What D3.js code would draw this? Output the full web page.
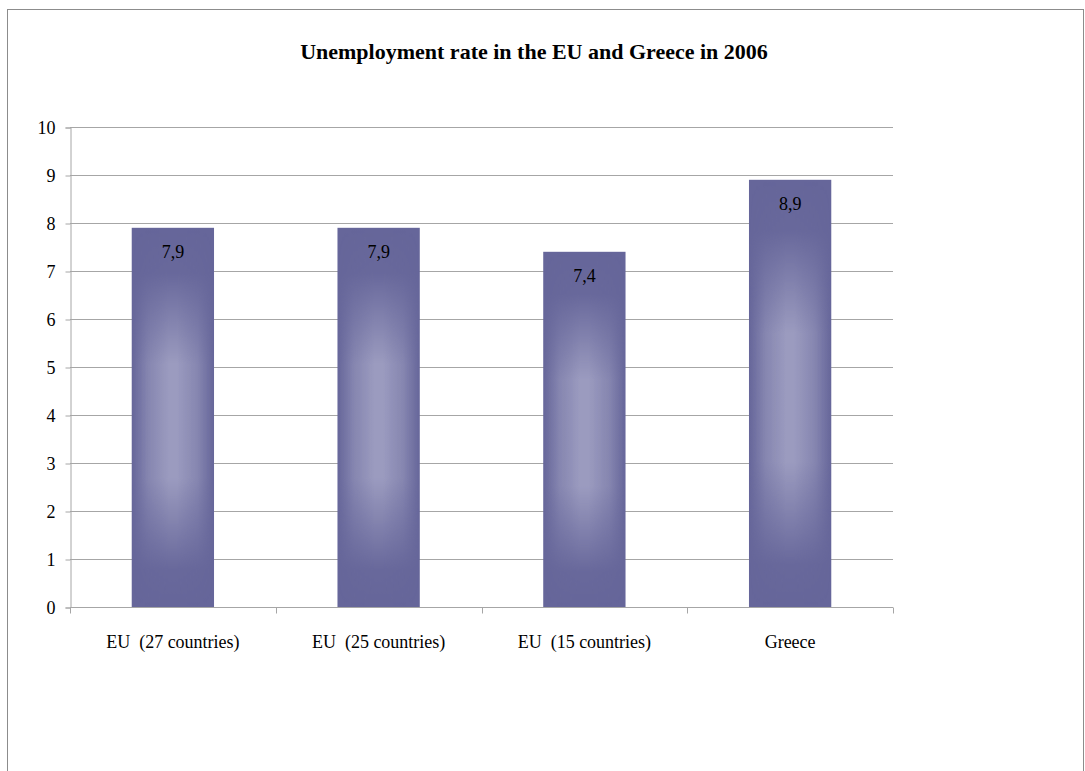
<!DOCTYPE html>
<html>
<head>
<meta charset="utf-8">
<script src="https://cdn.jsdelivr.net/npm/d3@7"></script>
<style>
  html, body { margin: 0; padding: 0; background: #fff; }
  svg { display: block; }
  svg text { font-family: "Liberation Serif", "DejaVu Serif", "Times New Roman", Times, serif !important; fill: #000; }
</style>
</head>
<body>
<script>
// Unemployment rate (%) in 2006
const categories = ["EU  (27 countries)", "EU  (25 countries)", "EU  (15 countries)", "Greece"];
const values = [7.9, 7.9, 7.4, 8.9];
const valueLabels = ["7,9", "7,9", "7,4", "8,9"];
const yTicks = [0, 1, 2, 3, 4, 5, 6, 7, 8, 9, 10];
const title = "Unemployment rate in the EU and Greece in 2006";

const W = 1085, H = 771;
const plot = { left: 70, right: 893, top: 127, bottom: 607 };
const FONT = "'Liberation Serif', 'DejaVu Serif', serif";

const svg = d3.select("body").append("svg")
  .attr("width", W).attr("height", H);

// chart frame
svg.append("rect")
  .attr("x", 7.5).attr("y", 9.5)
  .attr("width", 1076).attr("height", 780)
  .attr("fill", "#fff").attr("stroke", "#8c8c8c").attr("stroke-width", 1);

const defs = svg.append("defs");

// horizontal highlight across each bar
const hGrad = defs.append("linearGradient").attr("id", "hlight")
  .attr("x1", 0).attr("x2", 1).attr("y1", 0).attr("y2", 0);
[[0, 0], [0.2, 0.6], [0.45, 1], [0.55, 1], [0.8, 0.6], [1, 0]].forEach(([o, a]) =>
  hGrad.append("stop").attr("offset", o).attr("stop-color", "#9e9ec1").attr("stop-opacity", a));

// vertical fade of the highlight (dark at top and bottom)
const vGrad = defs.append("linearGradient").attr("id", "vfade")
  .attr("x1", 0).attr("x2", 0).attr("y1", 0).attr("y2", 1);
[[0, 0], [0.12, 0.05], [0.36, 0.95], [0.66, 0.95], [0.9, 0.05], [1, 0]].forEach(([o, a]) =>
  vGrad.append("stop").attr("offset", o).attr("stop-color", "#fff").attr("stop-opacity", a));
const mask = defs.append("mask").attr("id", "vmask")
  .attr("maskContentUnits", "objectBoundingBox");
mask.append("rect").attr("x", 0).attr("y", 0).attr("width", 1).attr("height", 1)
  .attr("fill", "url(#vfade)");

const x = d3.scaleBand().domain(categories).range([plot.left, plot.right])
  .paddingInner(0.6).paddingOuter(0.3);
const xOuter = d3.scaleBand().domain(categories).range([plot.left, plot.right]);
const y = d3.scaleLinear().domain([0, 10]).range([plot.bottom, plot.top]);

// gridlines
svg.append("g").selectAll("line").data(yTicks.filter(d => d > 0)).join("line")
  .attr("x1", plot.left).attr("x2", plot.right)
  .attr("y1", d => Math.round(y(d)) + 0.5).attr("y2", d => Math.round(y(d)) + 0.5)
  .attr("stroke", "#a6a6a6").attr("stroke-width", 1);

// y axis
const yAxis = svg.append("g").attr("transform", `translate(${plot.left + 0.5},0.5)`)
  .call(d3.axisLeft(y).tickValues(yTicks).tickSize(5).tickPadding(10).tickFormat(d3.format("d")))
  .attr("font-family", FONT).attr("font-size", 18);
yAxis.select(".domain").attr("stroke", "#a6a6a6");
yAxis.selectAll(".tick line").attr("stroke", "#a6a6a6");
yAxis.selectAll(".tick text").attr("font-family", FONT).attr("font-size", 18).attr("fill", "#000");

// bars
const bars = svg.append("g").selectAll("g").data(values).join("g");
bars.append("rect")
  .attr("x", (d, i) => x(categories[i]))
  .attr("y", d => y(d))
  .attr("width", x.bandwidth())
  .attr("height", d => y(0) - y(d))
  .attr("fill", "#66669a");
bars.append("rect")
  .attr("x", (d, i) => x(categories[i]))
  .attr("y", d => y(d))
  .attr("width", x.bandwidth())
  .attr("height", d => y(0) - y(d))
  .attr("fill", "url(#hlight)")
  .attr("mask", "url(#vmask)");

// value labels
bars.append("text")
  .attr("x", (d, i) => x(categories[i]) + x.bandwidth() / 2)
  .attr("y", d => y(d) + 30)
  .attr("text-anchor", "middle")
  .attr("font-family", FONT).attr("font-size", 18)
  .text((d, i) => valueLabels[i]);

// x axis
const xAxis = svg.append("g").attr("transform", `translate(0,${plot.bottom + 0.5})`);
xAxis.append("line").attr("x1", plot.left).attr("x2", plot.right)
  .attr("stroke", "#a6a6a6");
const bounds = categories.map(c => xOuter(c)).concat([plot.right]);
xAxis.selectAll("line.tick").data(bounds).join("line").attr("class", "tick")
  .attr("x1", d => Math.round(d) + 0.5).attr("x2", d => Math.round(d) + 0.5)
  .attr("y1", 0).attr("y2", 6).attr("stroke", "#a6a6a6");
xAxis.selectAll("text").data(categories).join("text")
  .attr("x", d => xOuter(d) + xOuter.bandwidth() / 2)
  .attr("y", 40)
  .attr("text-anchor", "middle")
  .attr("font-family", FONT).attr("font-size", 18)
  .style("white-space", "pre")
  .attr("xml:space", "preserve")
  .text(d => d);

// title
svg.append("text")
  .attr("x", 534).attr("y", 59)
  .attr("text-anchor", "middle")
  .attr("font-family", FONT).attr("font-size", 22).attr("font-weight", "bold")
  .text(title);
</script>
</body>
</html>
